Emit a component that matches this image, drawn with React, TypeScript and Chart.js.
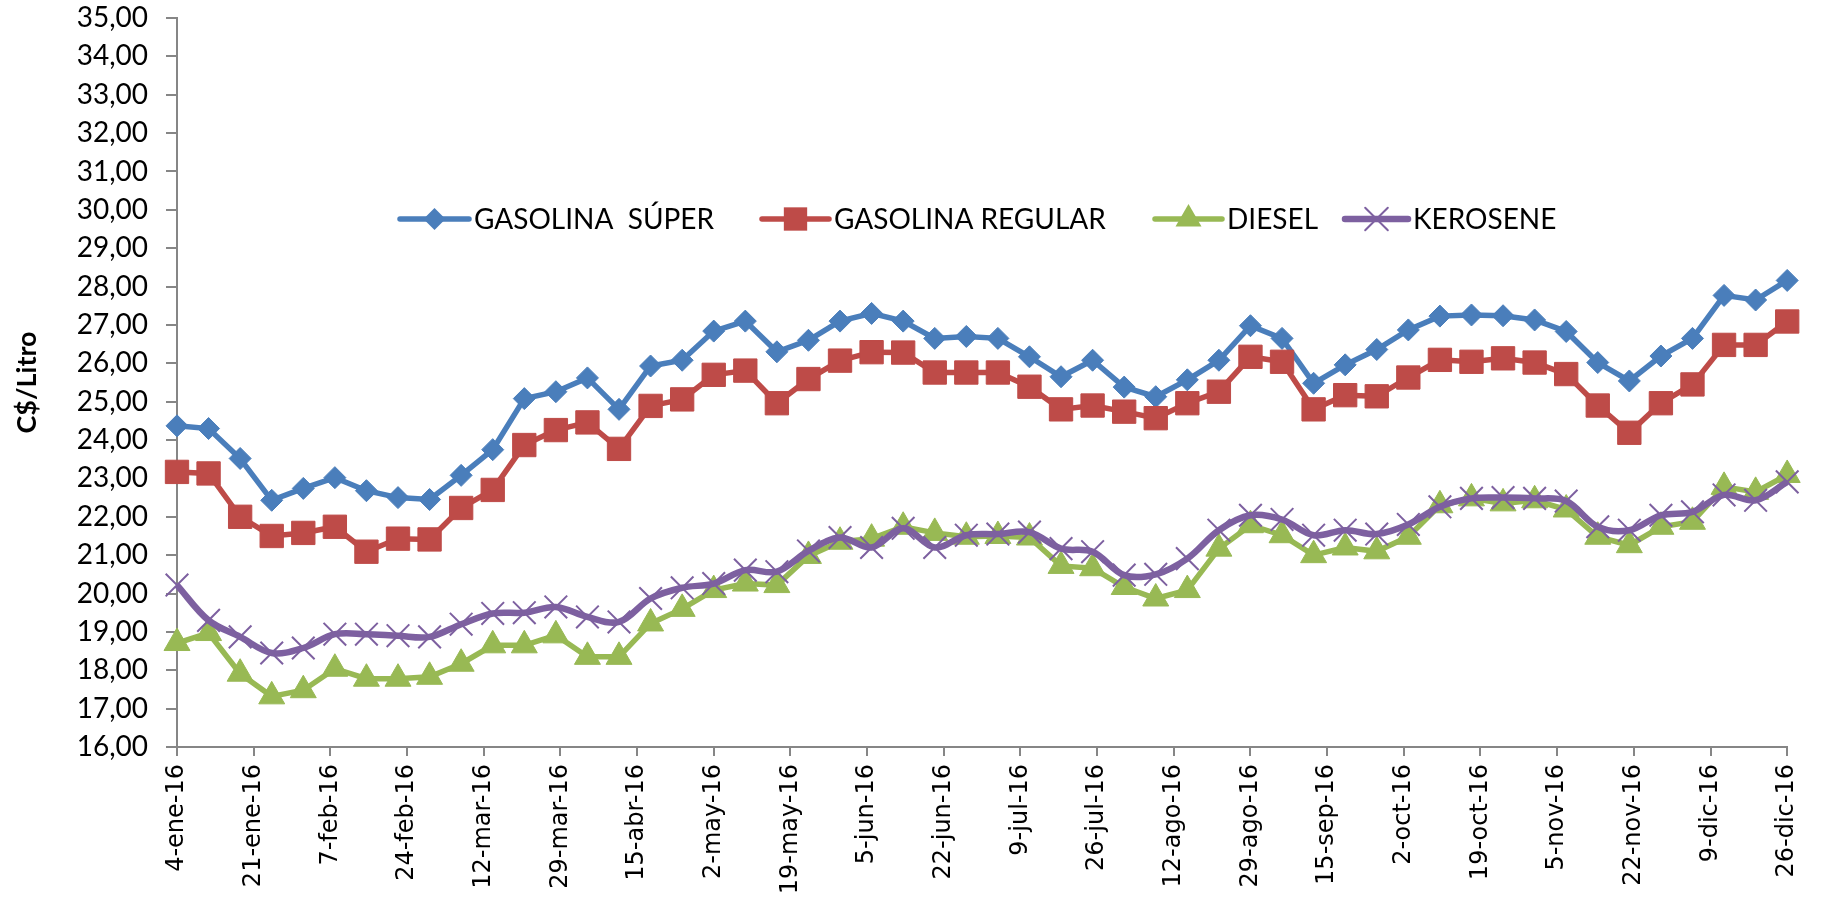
import React, { useEffect, useRef } from 'react';
import { Chart, registerables } from 'chart.js';

Chart.register(...registerables);

// ---- Data ----
const TICK_LABELS = [
  '4-ene-16', '21-ene-16', '7-feb-16', '24-feb-16', '12-mar-16', '29-mar-16', '15-abr-16',
  '2-may-16', '19-may-16', '5-jun-16', '22-jun-16', '9-jul-16', '26-jul-16', '12-ago-16',
  '29-ago-16', '15-sep-16', '2-oct-16', '19-oct-16', '5-nov-16', '22-nov-16', '9-dic-16', '26-dic-16',
];
const TICK_STEP_DAYS = 17; // date axis major unit
const WEEK_STEP_DAYS = 7; // weekly observations starting 4-ene-16

const SERIES_NAMES = ['GASOLINA  SÚPER', 'GASOLINA REGULAR', 'DIESEL', 'KEROSENE'];

const SUPER = [
  24.37, 24.30, 23.52, 22.43, 22.74, 23.02, 22.68, 22.50, 22.45, 23.08,
  23.75, 25.08, 25.26, 25.62, 24.80, 25.93, 26.08, 26.84, 27.10, 26.30,
  26.60, 27.10, 27.30, 27.10, 26.65, 26.70, 26.65, 26.17, 25.65, 26.08,
  25.38, 25.13, 25.57, 26.08, 26.98, 26.65, 25.48, 25.96, 26.36, 26.87,
  27.23, 27.26, 27.24, 27.13, 26.83, 26.02, 25.54, 26.19, 26.65, 27.77,
  27.65, 28.16,
];
const REGULAR = [
  23.17, 23.13, 22.00, 21.50, 21.58, 21.74, 21.09, 21.43, 21.41, 22.23,
  22.70, 23.87, 24.26, 24.46, 23.77, 24.89, 25.06, 25.70, 25.81, 24.96,
  25.59, 26.07, 26.29, 26.28, 25.76, 25.76, 25.76, 25.39, 24.80, 24.90,
  24.74, 24.57, 24.96, 25.26, 26.17, 26.04, 24.80, 25.17, 25.14, 25.63,
  26.09, 26.04, 26.13, 26.02, 25.72, 24.90, 24.19, 24.96, 25.45, 26.48,
  26.48, 27.09,
];
const DIESEL = [
  18.71, 18.97, 17.91, 17.32, 17.48, 18.04, 17.78, 17.78, 17.83, 18.17,
  18.65, 18.65, 18.91, 18.35, 18.35, 19.22, 19.60, 20.09, 20.26, 20.22,
  20.98, 21.35, 21.43, 21.74, 21.58, 21.48, 21.50, 21.46, 20.72, 20.66,
  20.17, 19.87, 20.09, 21.17, 21.78, 21.52, 21.00, 21.20, 21.10, 21.48,
  22.30, 22.48, 22.35, 22.43, 22.19, 21.48, 21.26, 21.74, 21.87, 22.78,
  22.65, 23.09,
];
const KEROSENE = [
  20.22, 19.30, 18.87, 18.45, 18.58, 18.94, 18.94, 18.90, 18.87, 19.20,
  19.48, 19.50, 19.65, 19.39, 19.26, 19.87, 20.15, 20.26, 20.61, 20.57,
  21.11, 21.46, 21.20, 21.70, 21.20, 21.52, 21.55, 21.60, 21.17, 21.09,
  20.48, 20.50, 20.91, 21.65, 22.04, 21.93, 21.52, 21.65, 21.55, 21.80,
  22.26, 22.48, 22.50, 22.48, 22.41, 21.74, 21.65, 22.04, 22.13, 22.57,
  22.43, 22.91,
];

const Y_MIN = 16;
const Y_MAX = 35;
const Y_TITLE = 'C$/Litro';

// ---- Styles ----
const COLORS = ['#4A7EBB', '#BE4B48', '#98B954', '#7D60A0'];
const POINT_STYLES = ['rectRot', 'rect', 'triangle', 'crossRot'];
const POINT_RADII = [11, 16.5, 15, 16];
const LINE_WIDTHS = [5.5, 5.5, 5.5, 6.5];
const AXIS_COLOR = '#868686';
const LABEL_FONT = 'Lato';

// legend layout (line start, line end, text x), in canvas px
const LEGEND_Y = 219;
const LEGEND_LAYOUT = [
  { x0: 400, x1: 469, tx: 474, maxW: 240 },
  { x0: 762, x1: 829, tx: 834, maxW: 272 },
  { x0: 1155, x1: 1222, tx: 1227, maxW: 95 },
  { x0: 1345, x1: 1408, tx: 1413, maxW: 150 },
];

function drawMarker(ctx: CanvasRenderingContext2D, style: string, x: number, y: number, r: number, color: string) {
  ctx.save();
  ctx.fillStyle = color;
  ctx.strokeStyle = color;
  ctx.beginPath();
  if (style === 'rectRot') {
    ctx.moveTo(x, y - r);
    ctx.lineTo(x + r, y);
    ctx.lineTo(x, y + r);
    ctx.lineTo(x - r, y);
    ctx.closePath();
    ctx.fill();
  } else if (style === 'rect') {
    const s = r * Math.SQRT1_2;
    ctx.rect(x - s, y - s, 2 * s, 2 * s);
    ctx.fill();
  } else if (style === 'triangle') {
    ctx.moveTo(x, y - r);
    ctx.lineTo(x + r * 0.866, y + r * 0.5);
    ctx.lineTo(x - r * 0.866, y + r * 0.5);
    ctx.closePath();
    ctx.fill();
  } else if (style === 'crossRot') {
    const o = r * Math.SQRT1_2;
    ctx.lineWidth = 2;
    ctx.moveTo(x - o, y - o);
    ctx.lineTo(x + o, y + o);
    ctx.moveTo(x + o, y - o);
    ctx.lineTo(x - o, y + o);
    ctx.stroke();
  }
  ctx.restore();
}

const legendPlugin = {
  id: 'insideLegend',
  afterDraw(chart: any) {
    const ctx: CanvasRenderingContext2D = chart.ctx;
    ctx.save();
    LEGEND_LAYOUT.forEach((item, i) => {
      ctx.beginPath();
      ctx.strokeStyle = COLORS[i];
      ctx.lineWidth = LINE_WIDTHS[i];
      ctx.lineCap = 'round';
      ctx.moveTo(item.x0, LEGEND_Y);
      ctx.lineTo(item.x1, LEGEND_Y);
      ctx.stroke();
      drawMarker(ctx, POINT_STYLES[i], (item.x0 + item.x1) / 2, LEGEND_Y, POINT_RADII[i], COLORS[i]);
      ctx.fillStyle = '#000';
      ctx.font = `28px ${LABEL_FONT}`;
      ctx.textBaseline = 'middle';
      ctx.textAlign = 'left';
      ctx.fillText(SERIES_NAMES[i], item.tx, LEGEND_Y + 1, item.maxW);
    });
    ctx.restore();
  },
};

export default function App() {
  const canvasRef = useRef<HTMLCanvasElement | null>(null);

  useEffect(() => {
    const canvas = canvasRef.current;
    if (!canvas) return;
    const seriesValues = [SUPER, REGULAR, DIESEL, KEROSENE];
    const datasets = seriesValues.map((values, i) => ({
      label: SERIES_NAMES[i],
      data: values.map((v, k) => ({ x: k * WEEK_STEP_DAYS, y: v })),
      borderColor: COLORS[i],
      backgroundColor: COLORS[i],
      borderWidth: LINE_WIDTHS[i],
      pointStyle: POINT_STYLES[i],
      pointRadius: POINT_RADII[i],
      pointBackgroundColor: COLORS[i],
      pointBorderColor: COLORS[i],
      pointBorderWidth: i === 3 ? 2 : 1,
      tension: i === 3 ? 0.35 : 0,
      order: 3 - i,
      clip: false as any,
    }));

    const chart = new Chart(canvas, {
      type: 'line',
      data: { datasets },
      options: {
        animation: false,
        responsive: false,
        devicePixelRatio: 1,
        layout: { padding: { top: 17, right: 36, left: 0, bottom: 0 } },
        plugins: { legend: { display: false }, tooltip: { enabled: false } },
        scales: {
          x: {
            type: 'linear',
            min: 0,
            max: (TICK_LABELS.length - 1) * TICK_STEP_DAYS,
            afterBuildTicks: (s: any) => {
              s.ticks = TICK_LABELS.map((_, i) => ({ value: i * TICK_STEP_DAYS }));
            },
            afterFit: (s: any) => {
              s.height = 154;
              s.paddingTop = 0;
            },
            ticks: {
              autoSkip: false,
              maxRotation: 90,
              minRotation: 90,
              padding: 8,
              color: '#000',
              font: { family: 'DejaVu Sans', size: 24 },
              callback: (v: any) => TICK_LABELS[Math.round(Number(v) / TICK_STEP_DAYS)],
            },
            grid: { drawOnChartArea: false, drawTicks: true, tickLength: 9, color: AXIS_COLOR, lineWidth: 2 },
            border: { color: AXIS_COLOR, width: 2 },
          },
          y: {
            min: Y_MIN,
            max: Y_MAX,
            afterFit: (s: any) => {
              s.width = 177;
              s.paddingTop = 0;
              s.paddingBottom = 0;
            },
            ticks: {
              stepSize: 1,
              padding: 18,
              color: '#000',
              font: { family: LABEL_FONT, size: 28 },
              callback: (v: any) => Number(v).toFixed(2).replace('.', ','),
            },
            title: {
              display: true,
              text: Y_TITLE,
              color: '#000',
              font: { family: LABEL_FONT, size: 27, weight: 'bold' },
              padding: { top: 11, bottom: 0 },
            },
            grid: { drawOnChartArea: false, drawTicks: true, tickLength: 11, color: AXIS_COLOR, lineWidth: 2 },
            border: { color: AXIS_COLOR, width: 2 },
          },
        },
      },
      plugins: [legendPlugin],
    } as any);

    return () => chart.destroy();
  }, []);

  return (
    <div style={{ position: 'fixed', left: 0, top: 0, width: 1824, height: 901, background: '#fff' }}>
      <canvas ref={canvasRef} width={1824} height={901} style={{ display: 'block' }} />
    </div>
  );
}
